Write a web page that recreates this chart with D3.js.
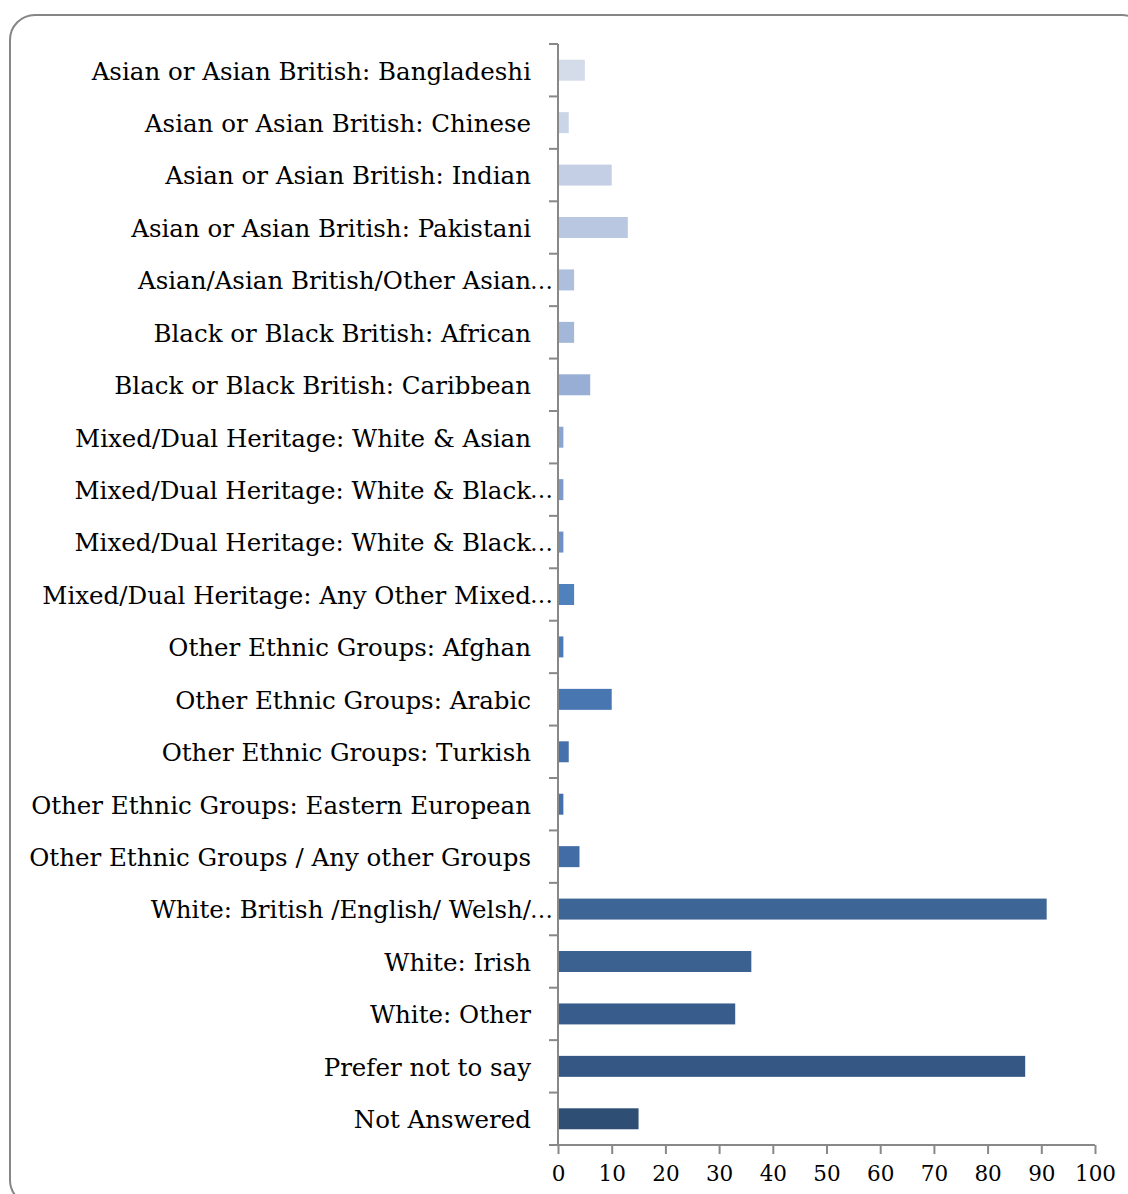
<!DOCTYPE html>
<html>
<head>
<meta charset="utf-8">
<script src="https://cdn.jsdelivr.net/npm/d3@7"></script>
<style>
  html, body { margin: 0; padding: 0; background: #fff; }
  svg { display: block; }
</style>
</head>
<body>
<svg id="chart" width="1128" height="1194"></svg>
<script>
const categories = [
  "Asian or Asian British: Bangladeshi",
  "Asian or Asian British: Chinese",
  "Asian or Asian British: Indian",
  "Asian or Asian British: Pakistani",
  "Asian/Asian British/Other Asian…",
  "Black or Black British: African",
  "Black or Black British: Caribbean",
  "Mixed/Dual Heritage: White & Asian",
  "Mixed/Dual Heritage: White & Black…",
  "Mixed/Dual Heritage: White & Black…",
  "Mixed/Dual Heritage: Any Other Mixed…",
  "Other Ethnic Groups: Afghan",
  "Other Ethnic Groups: Arabic",
  "Other Ethnic Groups: Turkish",
  "Other Ethnic Groups: Eastern European",
  "Other Ethnic Groups / Any other Groups",
  "White: British /English/ Welsh/…",
  "White: Irish",
  "White: Other",
  "Prefer not to say",
  "Not Answered"
];
const values = [5, 2, 10, 13, 3, 3, 6, 1, 1, 1, 3, 1, 10, 2, 1, 4, 91, 36, 33, 87, 15];
const barColors = [
  "#d4dcea", "#cbd5e8", "#c4cfe5", "#b9c7e1", "#adbfdd", "#a3b7d9", "#98aed5",
  "#8ba4d0", "#7d9acb", "#6f90c6", "#4f81bd", "#4a7bb7", "#4876b1", "#4672ac",
  "#4370aa", "#416ca5", "#3d6595", "#3b6191", "#385d8c", "#345784", "#2f4e74"
];
const xTicks = [0, 10, 20, 30, 40, 50, 60, 70, 80, 90, 100];

(function () {
const svg = d3.select("#chart");
const font = "'DejaVu Serif', 'Liberation Serif', serif";

// frame
svg.append("rect")
  .attr("x", 10).attr("y", 15)
  .attr("width", 1137).attr("height", 1190)
  .attr("rx", 25).attr("ry", 25)
  .attr("fill", "#fff")
  .attr("stroke", "#868686")
  .attr("stroke-width", 2);

const pLeft = 558, pRight = 1095, pTop = 44, pBottom = 1145;
const x = d3.scaleLinear().domain([0, 100]).range([pLeft, pRight]);
const idx = d3.range(categories.length);
const y = d3.scaleBand().domain(idx).range([pTop, pBottom]).paddingInner(0.6).paddingOuter(0.3);
const band = (pBottom - pTop) / categories.length;

// bars
svg.append("g").selectAll("rect")
  .data(idx)
  .join("rect")
  .attr("x", x(0))
  .attr("y", i => y(i))
  .attr("width", i => x(values[i]) - x(0))
  .attr("height", y.bandwidth())
  .attr("fill", i => barColors[i]);

const axisColor = "#888888";

// vertical axis line + category boundary ticks
svg.append("line")
  .attr("x1", pLeft).attr("x2", pLeft)
  .attr("y1", pTop).attr("y2", pBottom)
  .attr("stroke", axisColor).attr("stroke-width", 2);
const bounds = d3.range(categories.length + 1).map(k => pTop + k * band);
svg.append("g").selectAll("line")
  .data(bounds)
  .join("line")
  .attr("x1", pLeft - 9).attr("x2", pLeft)
  .attr("y1", d => d).attr("y2", d => d)
  .attr("stroke", axisColor).attr("stroke-width", 2);

// category labels
const labels = svg.append("g")
  .attr("font-family", font)
  .attr("font-size", 24.5)
  .attr("fill", "#000");
idx.forEach(i => {
  const txt = categories[i];
  const cy = y(i) + y.bandwidth() / 2;
  const trunc = txt.endsWith("…");
  labels.append("text")
    .attr("x", 531)
    .attr("y", cy)
    .attr("dy", "0.38em")
    .attr("text-anchor", "end")
    .text(trunc ? txt.slice(0, -1) : txt);
  if (trunc) {
    labels.append("text")
      .attr("x", 530)
      .attr("y", cy)
      .attr("dy", "0.38em")
      .attr("font-size", 23)
      .attr("text-anchor", "start")
      .text("…");
  }
});

// horizontal axis
const xAxis = d3.axisBottom(x).tickValues(xTicks).tickSize(9).tickPadding(12).tickFormat(d3.format("d"));
const gx = svg.append("g")
  .attr("transform", `translate(0,${pBottom})`)
  .call(xAxis);
gx.select(".domain").remove();
gx.append("line")
  .attr("x1", pLeft - 9).attr("x2", pRight)
  .attr("y1", 0).attr("y2", 0)
  .attr("stroke", axisColor).attr("stroke-width", 2);
gx.selectAll(".tick line").attr("stroke", axisColor).attr("stroke-width", 2);
gx.selectAll(".tick text")
  .attr("font-family", font)
  .attr("font-size", 21.5)
  .attr("fill", "#000");
})();
</script>
</body>
</html>
